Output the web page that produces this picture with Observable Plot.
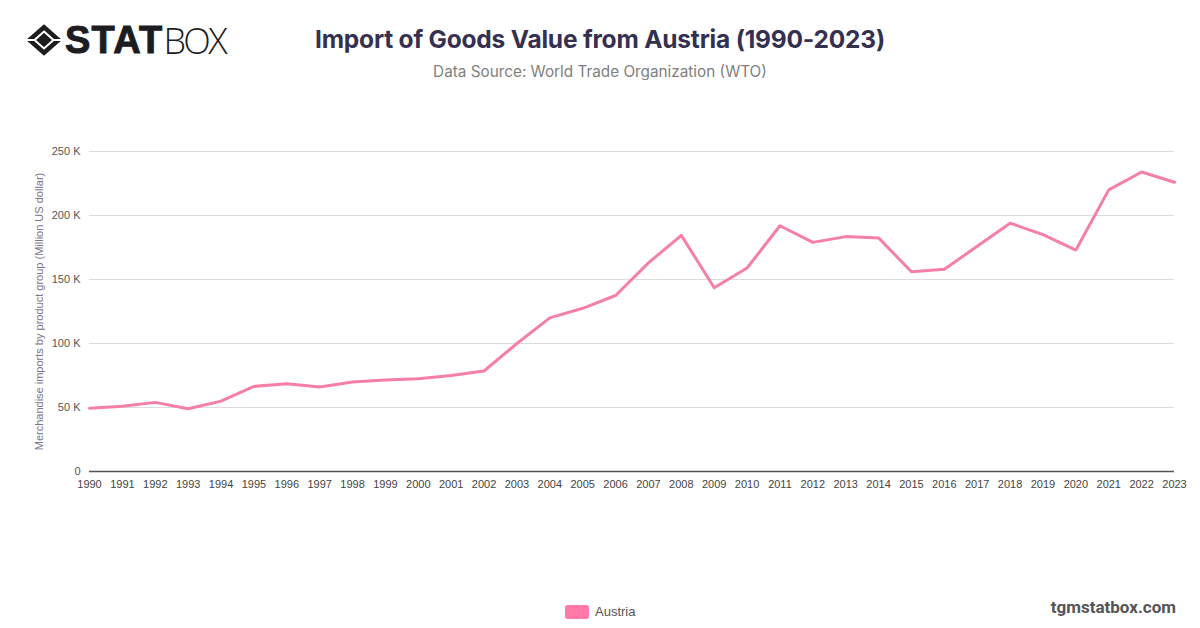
<!DOCTYPE html>
<html><head><meta charset="utf-8">
<script src="https://cdn.jsdelivr.net/npm/d3@7"></script>
<script src="https://cdn.jsdelivr.net/npm/@observablehq/plot@0.6"></script>
<style>
html,body{margin:0;padding:0;background:#fff;width:1200px;height:628px;overflow:hidden;position:relative}
.t{position:absolute;white-space:nowrap}
#title{left:0;width:1200px;text-align:center;top:24px;font:700 24.5px Inter,sans-serif;color:#35304f;letter-spacing:-.2px}
#sub{left:0;width:1200px;text-align:center;top:62px;font:400 15.3px Inter,sans-serif;color:#808080}
#logo{left:25px;top:20px;height:40px;display:flex;align-items:center}
#logo b{font:900 38px "Liberation Sans",sans-serif;color:#1d1d1f;letter-spacing:1.2px;margin-left:2px;-webkit-text-stroke:1px #1d1d1f}
#logo span{font:300 36px "Open Sans",sans-serif;color:#1d1d1f;letter-spacing:-2.6px}
#legend{left:565px;top:604px;font:13px "Liberation Sans",sans-serif;color:#555;display:flex;align-items:center}
#legend i{display:inline-block;width:24px;height:14px;background:#ff7aa8;border-radius:3px;margin-right:6px}
#brand{right:24px;top:597px;font:700 17px Roboto,sans-serif;color:#555}
#chart{position:absolute;left:0;top:120px}
</style></head><body>
<div class="t" id="logo"><svg width="38" height="34" viewBox="0 0 36 32"><path d="M18 1 35 16 18 31 1 16Z" fill="#1d1d1f"/><path d="M18 8 27 16 18 24 9 16Z" fill="#1d1d1f" stroke="#fff" stroke-width="2"/><path d="M9 16H1M27 16h8" stroke="#fff" stroke-width="2"/></svg><b>STAT</b><span>BOX</span></div>
<div class="t" id="title">Import of Goods Value from Austria (1990-2023)</div>
<div class="t" id="sub">Data Source: World Trade Organization (WTO)</div>
<div id="chart"></div>
<div class="t" id="legend"><i></i>Austria</div>
<div class="t" id="brand">tgmstatbox.com</div>
<script>
const years = [1990,1991,1992,1993,1994,1995,1996,1997,1998,1999,2000,2001,2002,2003,2004,2005,2006,2007,2008,2009,2010,2011,2012,2013,2014,2015,2016,2017,2018,2019,2020,2021,2022,2023];
const imports = [49500,51000,54000,49000,55000,66500,68500,66000,70000,71500,72500,75000,78500,100000,120000,127500,137500,163000,184500,143500,159000,192000,179000,183500,182500,156000,158000,176000,194000,185000,173000,220000,234000,226000];
const yTicks = [0,50000,100000,150000,200000,250000];
const yLabel = "Merchandise imports by product group (Million US dollar)";
const data = years.map((year,i)=>({year,value:imports[i]}));
const plot = Plot.plot({
  width:1200,height:380,
  marginLeft:89,marginRight:26,marginTop:31,marginBottom:29,
  style:{fontFamily:'"Liberation Sans",sans-serif',fontSize:"11px",background:"transparent",overflow:"visible"},
  x:{type:"linear",domain:[1990,2023],label:null},
  y:{domain:[0,250000],label:null},
  marks:[
    Plot.ruleY(yTicks.slice(1),{stroke:"#dcdcdc",strokeWidth:1,strokeOpacity:1}),
    Plot.ruleY([0],{stroke:"#555",strokeWidth:1.5}),
    Plot.axisX({ticks:years,tickFormat:d=>String(d),tickSize:0,tickPadding:9,fill:"#444",fontSize:11,label:null}),
    Plot.axisY({ticks:yTicks,tickFormat:d=>d===0?"0":(d/1000)+" K",tickSize:0,tickPadding:9,fill:"#555",fontSize:11,label:null}),
    Plot.text([yLabel],{frameAnchor:"left",textAnchor:"middle",dx:-50,rotate:-90,fill:"#77748c",fontSize:11,text:d=>d}),
    Plot.line(data,{x:"year",y:"value",stroke:"#f57fa9",strokeWidth:3,curve:"linear"})
  ]
});
document.getElementById("chart").appendChild(plot);
</script>
</body></html>
